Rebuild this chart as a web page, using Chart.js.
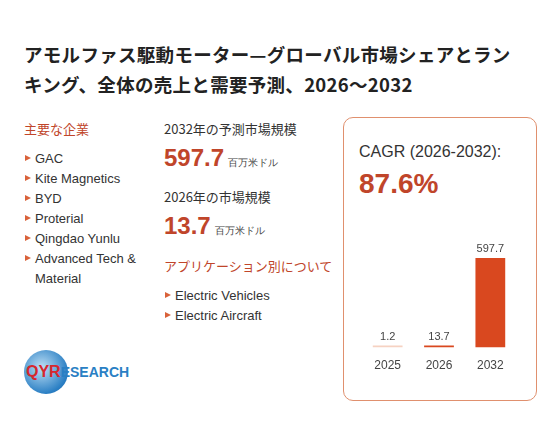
<!DOCTYPE html>
<html>
<head>
<meta charset="utf-8">
<script src="https://cdn.jsdelivr.net/npm/chart.js@4/dist/chart.umd.min.js"></script>
<style>
  body { margin: 0; width: 560px; height: 421px; background: #fff; font-family: "Noto Sans CJK JP", "Noto Sans", sans-serif; color: #333; position: relative; overflow: hidden; }
  .abs { position: absolute; }
  h1 { position: absolute; left: 24px; top: 39px; width: 502px; margin: 0; font-size: 18.5px; letter-spacing: 0.3px; line-height: 30px; font-weight: bold; color: #222; }
  .red { color: #c0452a; }
  ul { list-style: none; margin: 0; padding: 0; font-family: Arial, "Liberation Sans", sans-serif; font-size: 13px; color: #333; }
  li { position: relative; padding-left: 11px; line-height: 20px; }
  li::before { content: ""; position: absolute; left: 1px; top: 6px; border-left: 6px solid #d9623a; border-top: 3.5px solid transparent; border-bottom: 3.5px solid transparent; }
  .big { font-family: Arial, "Liberation Sans", sans-serif; font-weight: bold; font-size: 24px; color: #c0452a; }
  .unit { font-size: 10px; color: #444; font-weight: normal; margin-left: 4px; }
  .box { left: 343px; top: 117px; width: 192px; height: 282px; border: 1.5px solid #e0906e; border-radius: 10px; }
</style>
</head>
<body>
<h1>アモルファス駆動モーター—グローバル市場シェアとランキング、全体の売上と需要予測、2026～2032</h1>

<div class="abs red" style="left:24px;top:119px;font-size:13px;">主要な企業</div>
<ul class="abs" style="left:24px;top:149px;width:125px;" id="companies"></ul>

<div class="abs" style="left:164px;top:119px;font-size:13px;color:#333;">2032年の予測市場規模</div>
<div class="abs big" style="left:164px;top:144px;"><span id="v2032"></span><span class="unit">百万米ドル</span></div>
<div class="abs" style="left:164px;top:187px;font-size:13px;color:#333;">2026年の市場規模</div>
<div class="abs big" style="left:164px;top:212px;"><span id="v2026"></span><span class="unit">百万米ドル</span></div>
<div class="abs red" style="left:164px;top:256px;font-size:13px;">アプリケーション別について</div>
<ul class="abs" style="left:164px;top:286px;width:170px;" id="apps"></ul>

<div class="abs" style="left:24px;top:350px;width:44px;height:44px;border-radius:50%;background:radial-gradient(circle at 40% 40%, #bfe0f5, #2a7fc4 70%, #1b5a9a);"></div>
<div class="abs" style="left:26px;top:363px;font-family:Arial,sans-serif;font-weight:bold;font-size:14px;"><span style="color:#d7262e;font-size:16px;">QYR</span><span style="color:#2a7fc4;">ESEARCH</span></div>

<div class="abs box"></div>
<div class="abs" style="left:359px;top:143px;font-family:Arial,sans-serif;font-size:16px;color:#333;">CAGR (2026-2032):</div>
<div class="abs" style="left:359px;top:168px;font-family:Arial,sans-serif;font-weight:bold;font-size:28px;color:#c0452a;" id="cagr"></div>
<div class="abs" style="left:362px;top:228px;width:154px;height:148px;"><canvas id="bar"></canvas></div>

<script>
const companies = ['GAC', 'Kite Magnetics', 'BYD', 'Proterial', 'Qingdao Yunlu', 'Advanced Tech & Material'];
const applications = ['Electric Vehicles', 'Electric Aircraft'];
const years = ['2025', '2026', '2032'];
const marketValues = [1.2, 13.7, 597.7];
const barColors = ['#f6d2c2', '#d9481f', '#d9481f'];
const cagrText = '87.6%';

document.getElementById('companies').innerHTML = companies.map(c => `<li>${c}</li>`).join('');
document.getElementById('apps').innerHTML = applications.map(c => `<li>${c}</li>`).join('');
document.getElementById('v2032').textContent = marketValues[2];
document.getElementById('v2026').textContent = marketValues[1];
document.getElementById('cagr').textContent = cagrText;

const valueLabels = {
  id: 'valueLabels',
  afterDatasetsDraw(chart) {
    const ctx = chart.ctx;
    ctx.save();
    ctx.font = '11px Arial, sans-serif';
    ctx.fillStyle = '#444';
    ctx.textAlign = 'center';
    chart.getDatasetMeta(0).data.forEach((bar, i) => {
      ctx.fillText(marketValues[i], bar.x, bar.y - 6);
    });
    ctx.restore();
  }
};

new Chart(document.getElementById('bar'), {
  type: 'bar',
  data: {
    labels: years,
    datasets: [{ data: marketValues, backgroundColor: barColors, barPercentage: 0.58, categoryPercentage: 1, minBarLength: 2 }]
  },
  options: {
    responsive: true,
    maintainAspectRatio: false,
    animation: false,
    layout: { padding: { top: 30 } },
    plugins: { legend: { display: false }, tooltip: { enabled: false } },
    scales: {
      x: { grid: { display: false }, border: { display: false }, ticks: { color: '#444', font: { size: 12, family: 'Arial' } } },
      y: { display: false, min: 0, max: 597.7 }
    }
  },
  plugins: [valueLabels]
});
</script>
</body>
</html>
